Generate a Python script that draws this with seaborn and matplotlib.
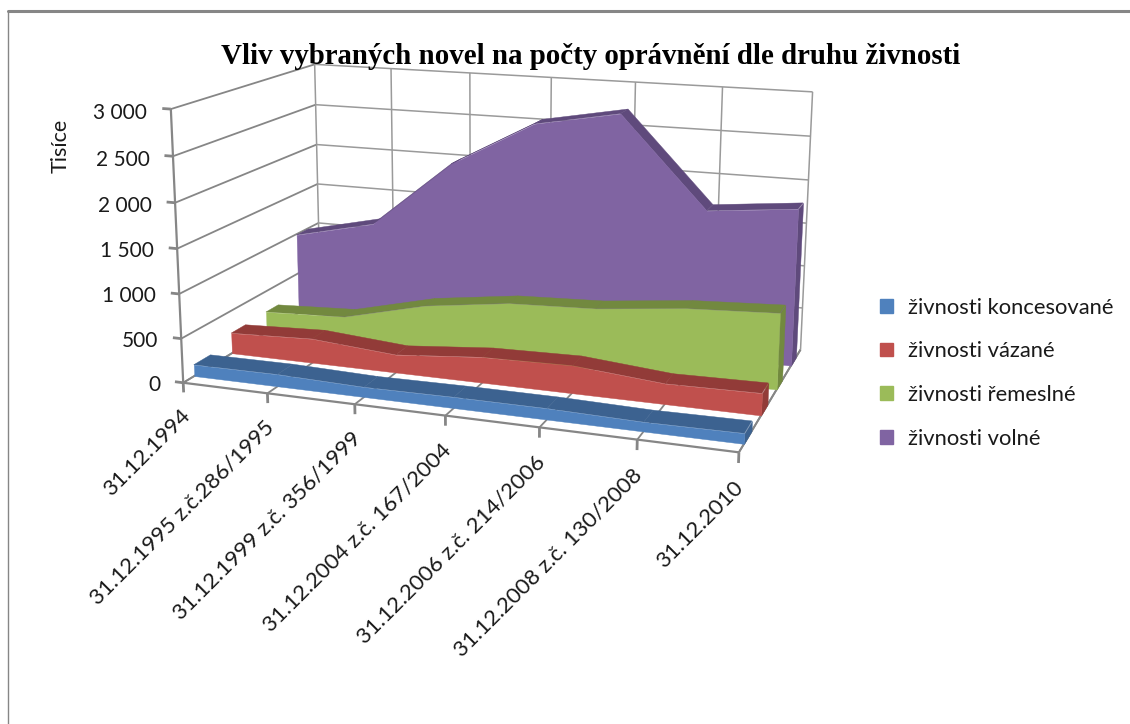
import numpy as np
import matplotlib
matplotlib.use('Agg')
import matplotlib.pyplot as plt
import seaborn as sns
from matplotlib.lines import Line2D
from matplotlib.patches import Patch
from mpl_toolkits.mplot3d import proj3d
from mpl_toolkits.mplot3d.art3d import Poly3DCollection

# Data (thousands)
categories = ['31.12.1994', '31.12.1995 z.č.286/1995', '31.12.1999 z.č. 356/1999',
              '31.12.2004 z.č. 167/2004', '31.12.2006 z.č. 214/2006',
              '31.12.2008 z.č. 130/2008', '31.12.2010']
series_names = ['živnosti koncesované', 'živnosti vázané', 'živnosti řemeslné', 'živnosti volné']
koncesovane = [130, 135, 110, 120, 120, 100, 110]
vazane = [240, 280, 205, 290, 310, 225, 240]
remeslne = [250, 295, 530, 660, 700, 805, 855]
volne = [990, 1210, 2020, 2555, 2735, 1700, 1800]
z_ticks = [0, 500, 1000, 1500, 2000, 2500, 3000]
z_labels = ['0', '500', '1 000', '1 500', '2 000', '2 500', '3 000']

face_colors = sns.color_palette(['#4F81BD', '#C0504D', '#9BBB59', '#8064A2'])
dark_colors = sns.color_palette(['#3C6290', '#923B38', '#72893F', '#5F4A7C'])
ribbon_depth = [0.43, 0.40, 0.37, 0.37]
grid_color = '#868686'
text_color = '#1a1a1a'

sns.set_theme(style='white')
plt.rcParams['font.family'] = ['Lato', 'DejaVu Sans']

W, H = 1130, 724
fig = plt.figure(figsize=(W / 100, H / 100), dpi=100)

# 3D axes, view fitted to the box in the picture
scale, cx, cy = 3644.5, 501.8, 235.5
side = scale * 0.185
ax = fig.add_axes([(cx - scale * 0.095) / W, (H - cy - scale * 0.095) / H, side / W, side / H],
                  projection='3d')
ax.computed_zorder = False
ax.set_axis_off()
ax.patch.set_visible(False)
ax.set_xlim(0, 6, view_margin=0)
ax.set_ylim(0, 4, view_margin=0)
ax.set_zlim(0, 3000, view_margin=0)
ax.view_init(13.969, -70.559, -0.134)
ax.set_box_aspect((1, 0.566, 0.4922))
ax.set_proj_type('persp', focal_length=0.4673)

xs = list(range(len(categories)))


def line(x, y, z, lw=1.3, color=grid_color):
    ax.plot(x, y, z, color=color, lw=lw, zorder=1, clip_on=False, solid_capstyle='butt')


def label(x, y, z, text, **kw):
    # 3D text ignores rotation, so put it on the 2D plane of the axes
    u, v, _ = proj3d.proj_transform(x, y, z, ax.get_proj())
    ax.text2D(u, v, text, transform=ax.transData, color=text_color, zorder=60, clip_on=False, **kw)


# walls and floor
for z in z_ticks:
    line([0, 0], [0, 4], [z, z])
    line([-0.1, 0], [0, 0], [z, z], lw=2)
    if z > 0:
        line([0, 6], [4, 4], [z, z], lw=1.1, color='#9a9a9a')
for x in xs:
    line([x, x], [4, 4], [0, 3000], lw=1.1, color='#9a9a9a')
    line([x, x], [0, 4], [0, 0])
    line([x, x], [0, 0], [-110, 0], lw=2)
line([0, 0], [0, 0], [0, 3000], lw=1.6)
line([0, 6], [0, 0], [0, 0], lw=1.6)
line([6, 6], [0, 4], [0, 0], lw=1.4)

# ribbons, back to front
all_values = [koncesovane, vazane, remeslne, volne]
for i in [3, 2, 1, 0]:
    vals = all_values[i]
    yf, yb = i + 0.28, i + 0.28 + ribbon_depth[i]
    base = 10 + (3 - i) * 10
    tops = [[(xs[k], yf, vals[k]), (xs[k + 1], yf, vals[k + 1]), (xs[k + 1], yb, vals[k + 1]), (xs[k], yb, vals[k])]
            for k in range(len(xs) - 1)]
    top = Poly3DCollection(tops, facecolors=dark_colors[i], edgecolors=dark_colors[i], linewidths=0.3, zorder=base)
    ax.add_collection3d(top)
    cap = Poly3DCollection([[(xs[-1], yf, 0), (xs[-1], yb, 0), (xs[-1], yb, vals[-1]), (xs[-1], yf, vals[-1])]],
                           facecolors=dark_colors[i], edgecolors=dark_colors[i], linewidths=0.3, zorder=base + 1)
    ax.add_collection3d(cap)
    front = [(x, yf, 0) for x in xs] + [(x, yf, v) for x, v in zip(xs[::-1], vals[::-1])]
    face = Poly3DCollection([front], facecolors=face_colors[i], edgecolors=face_colors[i], linewidths=0.3, zorder=base + 2)
    ax.add_collection3d(face)

# tick labels
for z, lab in zip(z_ticks, z_labels):
    label(-0.28, 0, z - 55, lab, ha='right', va='center', fontsize=15)
for x, lab in zip(xs, categories):
    label(x - 0.05, 0, -270, lab, rotation=45, ha='right', va='top', rotation_mode='anchor', fontsize=16)

fig.text(61 / W, 1 - 146 / H, 'Tisíce', rotation=90, ha='center', va='center', fontsize=15.5, color=text_color)
fig.text(591 / W, 1 - 56 / H, 'Vliv vybraných novel na počty oprávnění dle druhu živnosti',
         ha='center', va='center', fontsize=20.8, fontweight='bold', family='Liberation Serif', color='black')

handles = [Patch(facecolor=c, edgecolor=c, label=n) for c, n in zip(face_colors, series_names)]
fig.legend(handles=handles, loc='upper left', bbox_to_anchor=(880 / W, 1 - 297.5 / H), frameon=False,
           fontsize=15.8, handlelength=0.57, handleheight=0.57, handletextpad=0.71, labelspacing=1.08,
           borderpad=0, borderaxespad=0, labelcolor=text_color)

# chart frame
fig.add_artist(Line2D([8 / W, 1], [1 - 10.5 / H, 1 - 10.5 / H], color=grid_color, lw=2.2))
fig.add_artist(Line2D([8 / W, 8 / W], [0, 1 - 10.5 / H], color=grid_color, lw=1.0))

fig.savefig('out.png', dpi=100)
